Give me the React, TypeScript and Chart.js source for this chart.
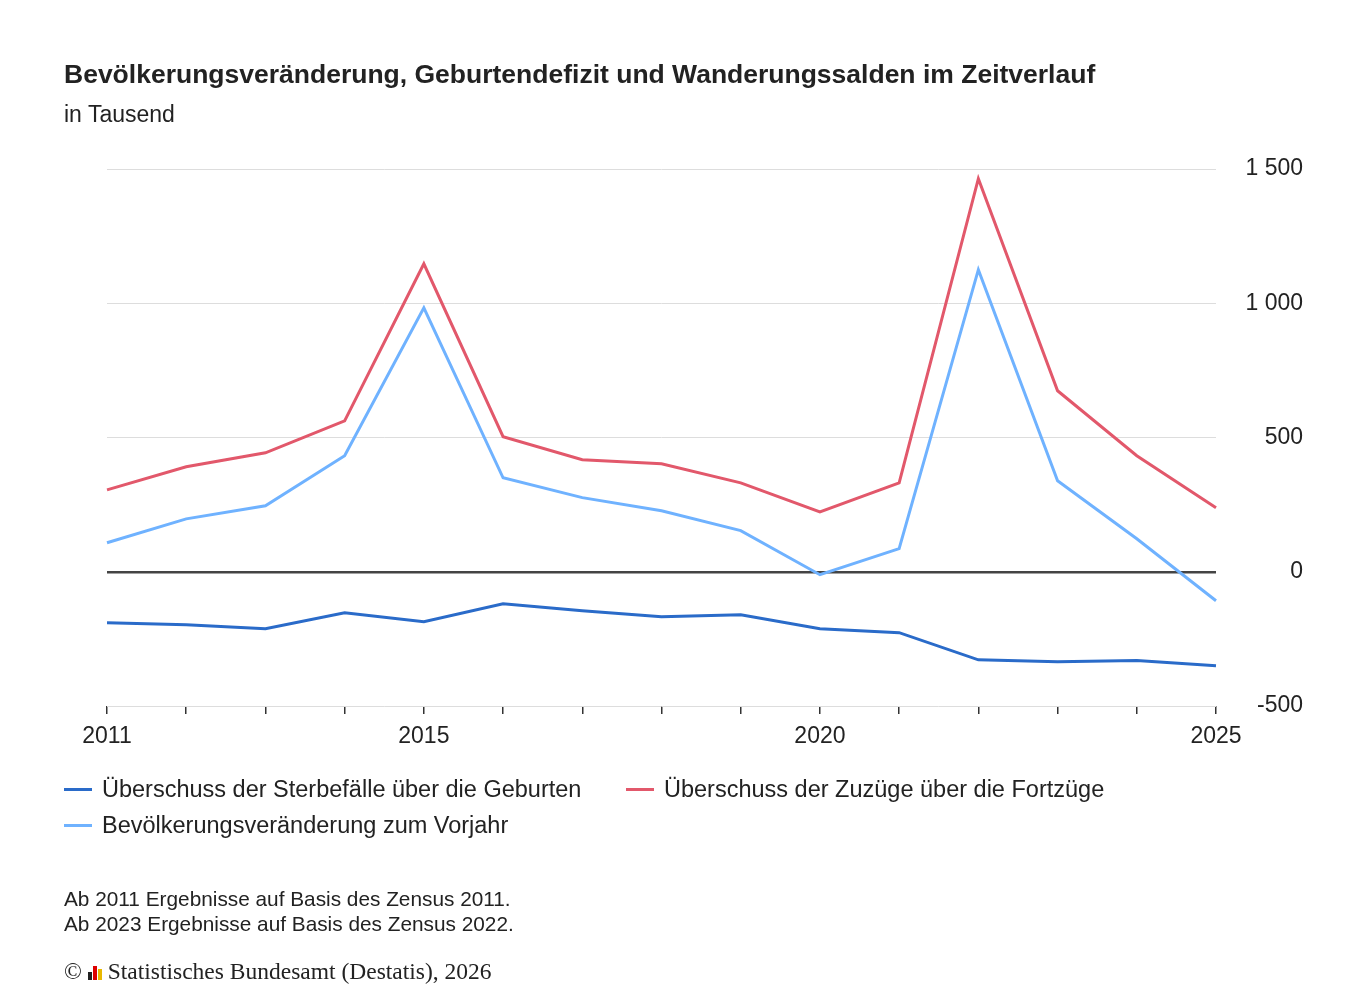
import React, { useEffect, useRef } from "react";
import { Chart, registerables } from "chart.js";
Chart.register(...registerables);

const years = ["2011","2012","2013","2014","2015","2016","2017","2018","2019","2020","2021","2022","2023","2024","2025"];
const shownYears = ["2011","2015","2020","2025"];
const sterbe = [-190,-197,-212,-153,-186,-119,-145,-168,-160,-212,-227,-328,-335,-331,-350];
const zuzuege = [305,391,443,562,1147,503,417,402,331,223,331,1464,674,432,238];
const veraenderung = [108,197,246,432,983,350,276,227,153,-11,86,1125,339,123,-108];
const yTicks = [-500,0,500,1000,1500];

const RED = "#e2586b", LIGHT = "#6fb2ff", DARK = "#2a6bc9";
const FONT = "'Liberation Sans', Arial, sans-serif";

export default function App() {
  const ref = useRef<HTMLCanvasElement>(null);
  useEffect(() => {
    const mk = (label: string, data: number[], c: string) => ({ label, data, borderColor: c, backgroundColor: c, borderWidth: 3, pointRadius: 0, tension: 0 });
    const chart = new Chart(ref.current!, {
      type: "line",
      data: { labels: years, datasets: [
        mk("Überschuss der Sterbefälle über die Geburten", sterbe, DARK),
        mk("Überschuss der Zuzüge über die Fortzüge", zuzuege, RED),
        mk("Bevölkerungsveränderung zum Vorjahr", veraenderung, LIGHT),
      ]},
      options: {
        animation: false, responsive: false,
        layout: { padding: { left: 107, top: 169, right: 64, bottom: 0 } },
        plugins: { legend: { display: false }, tooltip: { enabled: false } },
        scales: {
          x: {
            offset: false,
            afterFit: (s: any) => { s.height = 294; },
            border: { display: false },
            grid: { drawOnChartArea: false, drawTicks: true, tickLength: 8, color: "#333", lineWidth: 1.5 },
            ticks: { autoSkip: false, maxRotation: 0, color: "#222", font: { family: FONT, size: 23 }, padding: 9,
              callback: function (this: any, v: any) { const l = years[v]; return shownYears.includes(l) ? l : ""; } },
          },
          y: {
            position: "right", min: -500, max: 1500,
            afterFit: (s: any) => { s.width = 87; },
            afterBuildTicks: (s: any) => { s.ticks = yTicks.map((v) => ({ value: v })); },
            border: { display: false },
            grid: { drawTicks: false, color: (c: any) => (c.tick && c.tick.value === 0 ? "#444" : "#dddddd"), lineWidth: (c: any) => (c.tick && c.tick.value === 0 ? 2.5 : 1) },
            ticks: { crossAlign: "far", padding: 0, color: "#222", font: { family: FONT, size: 23 },
              callback: (v: any) => String(v).replace(/\B(?=(\d{3})+(?!\d))/g, " ") },
          },
        },
      },
    } as any);
    return () => chart.destroy();
  }, []);

  const legendItem = (c: string, t: string, left: number, top: number) => (
    <div style={{ position: "absolute", left, top, display: "flex", alignItems: "center", fontSize: 23.5, color: "#222" }}>
      <span style={{ display: "inline-block", width: 28, height: 3, background: c, marginRight: 10 }} />{t}
    </div>
  );

  return (
    <div style={{ position: "absolute", left: 0, top: 0, width: 1367, height: 1000, background: "#fff", fontFamily: FONT, overflow: "hidden" }}>
      <canvas ref={ref} width={1367} height={1000} style={{ position: "absolute", left: 0, top: 0 }} />
      <div style={{ position: "absolute", left: 64, top: 59, fontSize: 26.5, fontWeight: "bold", color: "#222" }}>Bevölkerungsveränderung, Geburtendefizit und Wanderungssalden im Zeitverlauf</div>
      <div style={{ position: "absolute", left: 64, top: 101, fontSize: 23, color: "#222" }}>in Tausend</div>
      {legendItem(DARK, "Überschuss der Sterbefälle über die Geburten", 64, 776)}
      {legendItem(RED, "Überschuss der Zuzüge über die Fortzüge", 626, 776)}
      {legendItem(LIGHT, "Bevölkerungsveränderung zum Vorjahr", 64, 812)}
      <div style={{ position: "absolute", left: 64, top: 886, fontSize: 20.8, color: "#222", lineHeight: "25px" }}>
        Ab 2011 Ergebnisse auf Basis des Zensus 2011.<br />Ab 2023 Ergebnisse auf Basis des Zensus 2022.
      </div>
      <div style={{ position: "absolute", left: 64, top: 958, fontSize: 23.5, color: "#222", fontFamily: "'Liberation Serif', serif", display: "flex", alignItems: "center" }}>
        ©&nbsp;<span style={{ display: "inline-flex", alignItems: "flex-end", height: 16, marginRight: 6 }}>
          <span style={{ width: 4, height: 8, background: "#222", marginRight: 1 }} />
          <span style={{ width: 4, height: 14, background: "#d00", marginRight: 1 }} />
          <span style={{ width: 4, height: 11, background: "#e8b800" }} />
        </span>Statistisches Bundesamt (Destatis), 2026
      </div>
    </div>
  );
}
